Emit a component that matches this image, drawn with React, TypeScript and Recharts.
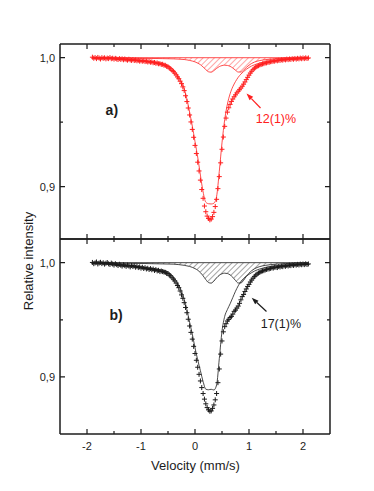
import React from 'react';
import {
  ComposedChart,
  Scatter,
  Line,
  Area,
  XAxis,
  YAxis,
  ReferenceLine,
  ReferenceDot,
} from 'recharts';

// channel velocities: -1.9 mm/s upward in 0.025 mm/s steps
const V_START = -1.9;
const V_STEP = 0.025;

// measured spectrum a) (red)
const DATA_A = [
  1.0004, 0.9996, 1.0001, 0.9993, 1.0002, 0.9997, 0.999, 1.0,
  0.9995, 0.9999, 0.9991, 0.9997, 0.9993, 1.0001, 0.9992, 0.9996,
  0.9989, 0.9995, 0.999, 0.9986, 0.9993, 0.9987, 0.9991, 0.9984,
  0.999, 0.9985, 0.9981, 0.9988, 0.9983, 0.9979, 0.9985, 0.9978,
  0.9982, 0.9976, 0.998, 0.9973,
  0.9977, 0.9973, 0.9976, 0.997, 0.9973, 0.9967, 0.997, 0.9965,
  0.9967, 0.9961, 0.9963, 0.9957, 0.9959, 0.9953, 0.9954, 0.9948,
  0.9949, 0.9942, 0.9941, 0.9933, 0.9929, 0.992, 0.9913, 0.9902,
  0.9894, 0.988, 0.9867, 0.9851, 0.9837, 0.9818, 0.9799, 0.9774,
  0.9745, 0.9705, 0.966, 0.961, 0.9556, 0.9502, 0.9444, 0.9383,
  0.932, 0.9257, 0.919, 0.9122, 0.9051, 0.8978, 0.891, 0.885,
  0.8806, 0.8772, 0.8754, 0.8743, 0.8749, 0.8768, 0.8801, 0.8846,
  0.8902, 0.8985, 0.9078, 0.9185, 0.929, 0.9385, 0.9468, 0.9532,
  0.9578, 0.9612, 0.9638, 0.9661, 0.968, 0.9697, 0.9712, 0.9727,
  0.974, 0.9752, 0.9765, 0.9779, 0.9795, 0.9812, 0.983, 0.9848,
  0.9865, 0.9881, 0.9895, 0.9907, 0.9918, 0.9926, 0.9933, 0.9938,
  0.9944, 0.9947, 0.9952, 0.9954, 0.9959, 0.996, 0.9964, 0.9965,
  0.9969, 0.997, 0.9974, 0.9973, 0.9978, 0.9976, 0.9981, 0.9979,
  0.9984, 0.9981, 0.9986, 0.9983, 0.9989, 0.9985, 0.999, 0.9987,
  0.9992, 0.9988, 0.9994, 0.9989, 0.9995, 0.9991, 0.9997, 0.9992,
  0.9998, 0.9993, 0.9999, 0.9994, 0.9998,
];

// measured spectrum b) (black)
const DATA_B = [
  1.0002, 0.9991, 0.9998, 1.0006, 0.9989, 0.9997, 1.0003, 0.9992,
  0.9999, 0.9987, 0.9995, 1.0001, 0.999, 0.9984, 0.9996, 0.9988,
  0.9979, 0.9991, 0.9983, 0.9975, 0.9986, 0.9978, 0.997, 0.9982,
  0.9974, 0.9968, 0.9979, 0.9971, 0.9963, 0.9975, 0.9966, 0.9972,
  0.996, 0.9968, 0.9957, 0.9963,
  0.9952, 0.996, 0.9949, 0.9956, 0.9945, 0.9951, 0.994, 0.9948,
  0.9938, 0.9944, 0.9932, 0.9939, 0.9928, 0.9933, 0.9922, 0.9927,
  0.9922, 0.9918, 0.9915, 0.9906, 0.9903, 0.9891, 0.9884, 0.9868,
  0.9856, 0.984, 0.9822, 0.98, 0.9781, 0.9752, 0.9718, 0.9688,
  0.965, 0.9608, 0.9562, 0.9505, 0.9446, 0.939, 0.9331, 0.9268,
  0.9205, 0.9146, 0.9085, 0.9023, 0.8965, 0.8907, 0.8855, 0.8806,
  0.8765, 0.8732, 0.8712, 0.87, 0.8703, 0.8725, 0.8755, 0.88,
  0.8855, 0.895, 0.907, 0.92, 0.9315, 0.9395, 0.944, 0.9466,
  0.949, 0.9504, 0.952, 0.953, 0.955, 0.9574, 0.9585, 0.9603,
  0.962, 0.9644, 0.9675, 0.9703, 0.9722, 0.9748, 0.977, 0.9792,
  0.981, 0.9831, 0.9848, 0.9864, 0.9878, 0.9891, 0.99, 0.9909,
  0.9915, 0.9922, 0.9928, 0.993, 0.9936, 0.9941, 0.9944, 0.9946,
  0.995, 0.9955, 0.9953, 0.9961, 0.996, 0.9957, 0.9966, 0.9962,
  0.9969, 0.9965, 0.9973, 0.9968, 0.9975, 0.9971, 0.9978, 0.9974,
  0.9981, 0.9976, 0.9983, 0.9979, 0.9985, 0.998, 0.9987, 0.9982,
  0.9988, 0.9983, 0.999, 0.9984, 0.9989,
];

// fitted components, read at these velocities
const FIT_V = [
  -1.9, -1.5, -1.2, -1.0, -0.8, -0.6, -0.5, -0.4, -0.3, -0.2, -0.15, -0.1, -0.05,
  0, 0.05, 0.1, 0.15, 0.2, 0.25, 0.3, 0.35, 0.4, 0.45, 0.5, 0.55, 0.6, 0.65,
  0.7, 0.75, 0.8, 0.85, 0.9, 0.95, 1.0, 1.05, 1.1, 1.2, 1.3, 1.4, 1.5, 1.7, 1.9, 2.1,
];

const MAIN_A = [
  0.9998, 0.9993, 0.9986, 0.998, 0.997, 0.9956, 0.994, 0.9908, 0.985, 0.976, 0.968, 0.9578, 0.947,
  0.935, 0.923, 0.909, 0.896, 0.888, 0.8868, 0.8866, 0.8872, 0.8925, 0.912, 0.934, 0.952, 0.964, 0.972,
  0.9775, 0.9815, 0.9848, 0.9873, 0.9893, 0.991, 0.9924, 0.9936, 0.9945, 0.9959, 0.9969, 0.9976, 0.9981, 0.9988, 0.9992, 0.9994,
];

const SUB_A = [
  0.9998, 0.9997, 0.9996, 0.9995, 0.9994, 0.9993, 0.9992, 0.9991, 0.9989, 0.9986, 0.9983, 0.9979, 0.9974,
  0.9968, 0.9958, 0.9946, 0.9928, 0.9908, 0.9891, 0.9888, 0.99, 0.9917, 0.9931, 0.9939, 0.9942, 0.994, 0.9933,
  0.992, 0.9903, 0.9889, 0.9889, 0.9904, 0.9924, 0.9942, 0.9956, 0.9966, 0.9978, 0.9985, 0.9989, 0.9992, 0.9995, 0.9997, 0.9998,
];

const MAIN_B = [
  0.9997, 0.9985, 0.9972, 0.9962, 0.995, 0.9935, 0.992, 0.9875, 0.9805, 0.968, 0.959, 0.948, 0.9375,
  0.9255, 0.915, 0.9055, 0.896, 0.8893, 0.8888, 0.8892, 0.8886, 0.893, 0.916, 0.94, 0.953, 0.959, 0.964,
  0.9695, 0.975, 0.9797, 0.9835, 0.9862, 0.9882, 0.9898, 0.9913, 0.9926, 0.9945, 0.9958, 0.9966, 0.9972, 0.998, 0.9985, 0.9988,
];

const SUB_B = [
  0.9997, 0.9996, 0.9994, 0.9993, 0.9991, 0.9989, 0.9988, 0.9987, 0.9983, 0.9977, 0.9972, 0.9967, 0.9959,
  0.9948, 0.9934, 0.9913, 0.9885, 0.9852, 0.9826, 0.9821, 0.9839, 0.9867, 0.9889, 0.9903, 0.9908, 0.9905, 0.9893,
  0.9872, 0.9844, 0.9822, 0.9822, 0.9846, 0.9879, 0.9908, 0.993, 0.9946, 0.9966, 0.9976, 0.9983, 0.9987, 0.9992, 0.9995, 0.9997,
];

const X_DOMAIN: [number, number] = [-2.5, 2.5];
const X_MAJOR = [-2, -1, 0, 1, 2];
const X_MINOR = [-1.5, -0.5, 0.5, 1.5];
const Y_MAJOR = [0.9, 1.0];
const Y_MINOR = [0.95];

const RED = '#ff2020';
const INK = '#1c1c1c';
const FONT = "'Liberation Sans', Arial, sans-serif";
const THIN = 0.01; // axes take (almost) no room, margins place the plot box

const buildRows = (exp: number[], main: number[], sub: number[]) => {
  const fitIndex = new Map(FIT_V.map((v, i) => [Math.round(v * 40), i]));
  return exp.map((y, i) => {
    const v = Math.round((V_START + i * V_STEP) * 1000) / 1000;
    const j = fitIndex.get(Math.round(v * 40));
    return {
      v,
      exp: y,
      main: j === undefined ? null : main[j],
      sub: j === undefined ? null : sub[j],
    };
  });
};

// inward tick stubs at both ends of a segment that spans the plot box
const stubs = (len: number) => (p: any) => {
  const { x1, y1, x2, y2 } = p;
  if ([x1, y1, x2, y2].some((n) => n == null || Number.isNaN(n))) return <g />;
  const d = Math.hypot(x2 - x1, y2 - y1) || 1;
  const ux = ((x2 - x1) / d) * len;
  const uy = ((y2 - y1) / d) * len;
  return (
    <path
      d={`M${x1},${y1}l${ux},${uy}M${x2},${y2}l${-ux},${-uy}`}
      stroke={INK}
      strokeWidth={1.2}
      fill="none"
    />
  );
};

const plusShape = (color: string) => (props: any) => {
  const { cx, cy } = props;
  if (cx == null || cy == null) return <g />;
  return (
    <path
      d={`M${cx - 2.5},${cy}H${cx + 2.5}M${cx},${cy - 2.5}V${cy + 2.5}`}
      stroke={color}
      strokeWidth={1}
      fill="none"
    />
  );
};

const arrowShape = (color: string) => (p: any) => {
  const { x1, y1, x2, y2 } = p;
  const ang = Math.atan2(y2 - y1, x2 - x1);
  const bx = x2 - 7 * Math.cos(ang);
  const by = y2 - 7 * Math.sin(ang);
  const px = -Math.sin(ang) * 2.5;
  const py = Math.cos(ang) * 2.5;
  return (
    <g>
      <line x1={x1} y1={y1} x2={bx} y2={by} stroke={color} strokeWidth={1.2} />
      <path d={`M${x2},${y2}L${bx + px},${by + py}L${bx - px},${by - py}Z`} fill={color} />
    </g>
  );
};

const textShape = (text: string, color: string, size: number, bold = false) => (p: any) => (
  <text
    x={p.cx}
    y={p.cy}
    dy="0.35em"
    textAnchor="middle"
    fill={color}
    fontSize={size}
    fontWeight={bold ? 'bold' : 'normal'}
  >
    {text}
  </text>
);

const commaFmt = (v: number) => v.toFixed(1).replace('.', ',');

interface PanelProps {
  rows: any[];
  domain: [number, number];
  color: string;
  hatchId: string;
  top: number;
  height: number;
  marginTop: number;
  marginBottom: number;
  showXLabels: boolean;
  tag: string;
  tagAt: [number, number];
  pct: string;
  pctAt: [number, number];
  arrow: [number, number, number, number];
}

const Panel: React.FunctionComponent<PanelProps> = ({
  rows, domain, color, hatchId, top, height, marginTop, marginBottom,
  showXLabels, tag, tagAt, pct, pctAt, arrow,
}) => {
  const axisLine = { stroke: INK, strokeWidth: 1.5 };
  const xCommon = { dataKey: 'v', type: 'number' as const, domain: X_DOMAIN, height: THIN, interval: 0 as const };
  const yCommon = { type: 'number' as const, domain, allowDataOverflow: true, width: THIN, interval: 0 as const };
  const xTicks = [...X_MAJOR.map((t) => [t, 5]), ...X_MINOR.map((t) => [t, 3])];
  const yTicks = [...Y_MAJOR.map((t) => [t, 5]), ...Y_MINOR.map((t) => [t, 3])];
  return (
    <div style={{ position: 'absolute', left: 0, top }}>
      <ComposedChart
        width={374}
        height={height}
        data={rows}
        margin={{ top: marginTop, right: 44, bottom: marginBottom, left: 60 }}
      >
        <defs>
          <pattern id={hatchId} patternUnits="userSpaceOnUse" width={4} height={4} patternTransform="rotate(45)">
            <line x1={0} y1={0} x2={0} y2={4} stroke={color} strokeWidth={0.8} />
          </pattern>
        </defs>
        {/* frame */}
        <XAxis xAxisId="x" {...xCommon} ticks={X_MAJOR} orientation="bottom" tickSize={0} tickMargin={8}
          axisLine={axisLine} tickLine={false}
          tick={showXLabels ? { fill: INK, fontSize: 11 } : false} />
        <XAxis xAxisId="xt" {...xCommon} ticks={X_MAJOR} orientation="top"
          axisLine={axisLine} tickLine={false} tick={false} />
        <YAxis yAxisId="y" {...yCommon} ticks={Y_MAJOR} orientation="left" tickSize={0} tickMargin={5}
          axisLine={axisLine} tickLine={false}
          tick={{ fill: INK, fontSize: 11 }} tickFormatter={commaFmt} />
        <YAxis yAxisId="yr" {...yCommon} ticks={Y_MAJOR} orientation="right"
          axisLine={axisLine} tickLine={false} tick={false} />
        <Area
          xAxisId="x" yAxisId="y" dataKey="sub" type="monotone" baseValue={1}
          stroke={color} strokeWidth={0.8} fill={`url(#${hatchId})`} fillOpacity={1}
          connectNulls activeDot={false} isAnimationActive={false}
        />
        <ReferenceLine
          xAxisId="x" yAxisId="y"
          segment={[{ x: -1.9, y: 1 }, { x: 2.1, y: 1 }]}
          stroke={color} strokeWidth={0.8}
        />
        <Line
          xAxisId="x" yAxisId="y" dataKey="main" type="monotone"
          stroke={color} strokeWidth={0.8} dot={false} activeDot={false}
          connectNulls isAnimationActive={false}
        />
        <Scatter
          xAxisId="x" yAxisId="y" dataKey="exp"
          shape={plusShape(color)} isAnimationActive={false}
        />
        {/* inward ticks on all four sides */}
        {xTicks.map(([t, len]) => (
          <ReferenceLine
            key={`xt${t}`} xAxisId="x" yAxisId="y" ifOverflow="visible"
            segment={[{ x: t, y: domain[1] }, { x: t, y: domain[0] }]}
            shape={stubs(len)}
          />
        ))}
        {yTicks.map(([t, len]) => (
          <ReferenceLine
            key={`yt${t}`} xAxisId="x" yAxisId="y" ifOverflow="visible"
            segment={[{ x: X_DOMAIN[0], y: t }, { x: X_DOMAIN[1], y: t }]}
            shape={stubs(len)}
          />
        ))}
        <ReferenceLine
          xAxisId="x" yAxisId="y"
          segment={[{ x: arrow[0], y: arrow[1] }, { x: arrow[2], y: arrow[3] }]}
          shape={arrowShape(color)}
        />
        <ReferenceDot
          xAxisId="x" yAxisId="y" x={tagAt[0]} y={tagAt[1]}
          shape={textShape(tag, INK, 14, true)}
        />
        <ReferenceDot
          xAxisId="x" yAxisId="y" x={pctAt[0]} y={pctAt[1]}
          shape={textShape(pct, color, 12.5)}
        />
      </ComposedChart>
    </div>
  );
};

const App: React.FunctionComponent = () => {
  const rowsA = buildRows(DATA_A, MAIN_A, SUB_A);
  const rowsB = buildRows(DATA_B, MAIN_B, SUB_B);
  return (
    <div
      style={{
        position: 'absolute', left: 0, top: 0, width: 374, height: 491,
        background: '#fff', fontFamily: FONT, overflow: 'hidden',
      }}
    >
      <Panel
        rows={rowsA} domain={[0.85946, 1.01062]} color={RED} hatchId="hatchA"
        top={0} height={240} marginTop={44} marginBottom={1} showXLabels={false}
        tag="a)" tagAt={[-1.54, 0.9595]} pct="12(1)%" pctAt={[1.5, 0.9525]}
        arrow={[1.213, 0.961, 0.954, 0.9722]}
      />
      <Panel
        rows={rowsB} domain={[0.8501, 1.0207]} color={INK} hatchId="hatchB"
        top={200} height={291} marginTop={39} marginBottom={57} showXLabels
        tag="b)" tagAt={[-1.46, 0.9542]} pct="17(1)%" pctAt={[1.59, 0.9464]}
        arrow={[1.324, 0.9573, 1.05, 0.9693]}
      />
      <svg width={374} height={491} style={{ position: 'absolute', left: 0, top: 0, pointerEvents: 'none' }}>
        <text x={195.5} y={470} textAnchor="middle" fontSize={13} fill={INK}>
          Velocity (mm/s)
        </text>
        <text transform="translate(32.5,261) rotate(-90)" textAnchor="middle" fontSize={13} fill={INK}>
          Relative intensity
        </text>
      </svg>
    </div>
  );
};

export default App;
